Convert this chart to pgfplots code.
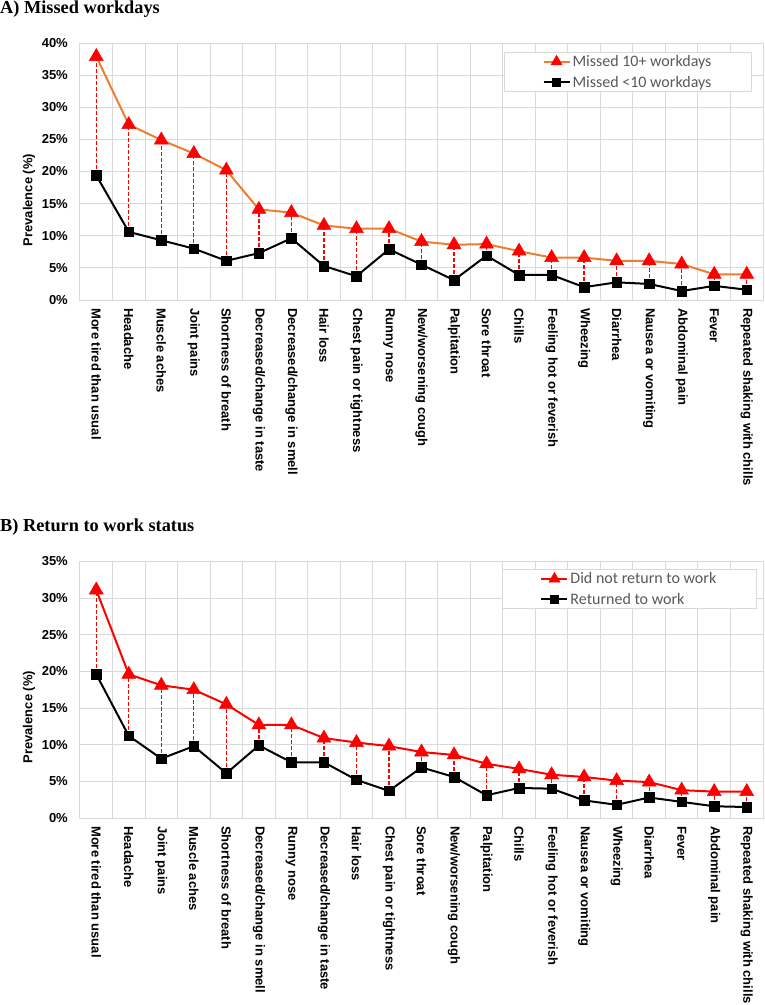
\documentclass[border=0pt]{standalone}
\usepackage{fontspec}
\setmainfont{Liberation Sans}
\newfontfamily\titlefont{Liberation Serif}
\newfontfamily\legfont{Carlito}
\usepackage{pgfplots}
\usepackage{pgfplotstable}
\pgfplotsset{compat=1.18}
\definecolor{xlorange}{HTML}{ED7D31}
\definecolor{gridgray}{HTML}{D9D9D9}
\definecolor{legtext}{HTML}{595959}

\pgfplotstableread{
x hi lo
0 37.9 19.4
1 27.3 10.6
2 24.9 9.3
3 22.8 8.0
4 20.2 6.1
5 14.1 7.3
6 13.6 9.6
7 11.6 5.3
8 11.1 3.7
9 11.1 7.9
10 9.1 5.5
11 8.6 3.1
12 8.7 6.9
13 7.6 3.9
14 6.6 3.9
15 6.6 2.0
16 6.1 2.75
17 6.1 2.5
18 5.6 1.4
19 4.0 2.2
20 4.0 1.6
}\dataA

\pgfplotstableread{
x hi lo
0 31.1 19.6
1 19.6 11.2
2 18.1 8.1
3 17.5 9.8
4 15.5 6.1
5 12.7 9.9
6 12.7 7.6
7 10.9 7.6
8 10.3 5.2
9 9.8 3.7
10 9.0 6.9
11 8.6 5.6
12 7.4 3.1
13 6.7 4.1
14 5.9 4.0
15 5.6 2.4
16 5.1 1.8
17 4.9 2.8
18 3.8 2.2
19 3.6 1.6
20 3.6 1.5
}\dataB

\pgfplotsset{
  panel/.style={
    scale only axis, width=683pt,
    xmin=-0.5, xmax=20.5, ymin=0,
    axis line style={gridgray, line width=1pt},
    xtick={0,...,20},
    minor xtick={-0.5,0.5,...,20.5},
    xminorgrids=true, ymajorgrids=true, xmajorgrids=false,
    major grid style={gridgray, line width=1pt},
    minor grid style={gridgray, line width=1pt},
    tick style={draw=none}, minor tick style={draw=none},
    tick align=outside, major tick length=8pt,
    /pgf/number format/assume math mode=true,
    xticklabel style={rotate=-90, anchor=west, inner sep=0pt,
      font=\fontsize{13}{15}\selectfont\bfseries},
    yticklabel style={inner sep=4pt, font=\fontsize{13}{15}\selectfont\bfseries},
    yticklabel={\pgfmathprintnumber{\tick}\%},
    ylabel={Prevalence (\%)},
    ylabel style={font=\fontsize{13}{15}\selectfont\bfseries, anchor=center},
    legend cell align=left,
    legend image code/.code={\draw[mark repeat=2,mark phase=2,##1] plot coordinates {(0pt,0pt) (13pt,0pt) (26pt,0pt)};},
    legend image post style={every mark/.append style={scale=0.8}},
    legend style={draw=gridgray, line width=0.8pt, anchor=north west,
      font=\legfont\fontsize{16}{18}\selectfont, text=legtext,
      inner xsep=38pt, inner ysep=1pt, row sep=4pt},
  },
  drop/.style={forget plot, only marks, mark=none,
    error bars/.cd, y dir=plus, y explicit, error mark=none,
    error bar style={red, dash pattern=on 4pt off 2pt, line width=1.3pt}},
}

\begin{document}
\begin{tikzpicture}
\useasboundingbox (0pt,0pt) rectangle (764pt,-1005pt);

\node[anchor=base west, inner sep=0pt, font=\titlefont\bfseries\fontsize{18.3}{20}\selectfont] at (0pt,-13pt) {A) Missed workdays};
\node[anchor=base west, inner sep=0pt, font=\titlefont\bfseries\fontsize{18.3}{20}\selectfont] at (0pt,-531pt) {B) Return to work status};

\begin{axis}[panel, at={(80pt,-300pt)}, anchor=south west, height=257pt,
  ymax=40, ytick={0,5,...,40},
  ylabel style={at={(axis description cs:-0.0747,0.389)}},
  legend style={at={(axis description cs:0.621,0.965)}},
  xticklabels={More tired than usual, Headache, Muscle aches, Joint pains, Shortness of breath, Decreased/change in taste, Decreased/change in smell, Hair loss, Chest pain or tightness, Runny nose, New/worsening cough, Palpitation, Sore throat, Chills, Feeling hot or feverish, Wheezing, Diarrhea, Nausea or vomiting, Abdominal pain, Fever, Repeated shaking with chills}]
\addplot[drop] table[x=x, y=lo, y error expr=\thisrow{hi}-\thisrow{lo}] {\dataA};
\addplot[xlorange, line width=2pt, mark=triangle*, mark size=8pt,
  mark options={fill=red, draw=red, line width=0.5pt, solid}] table[x=x, y=hi] {\dataA};
\addlegendentry{Missed 10+ workdays}
\addplot[black, line width=2pt, mark=square*, mark size=4.8pt,
  mark options={fill=black, line width=0.5pt, solid}] table[x=x, y=lo] {\dataA};
\addlegendentry{Missed <10 workdays}
\end{axis}

\begin{axis}[panel, at={(80pt,-818pt)}, anchor=south west, height=256.6pt,
  ymax=35, ytick={0,5,...,35},
  ylabel style={at={(axis description cs:-0.0747,0.393)}},
  legend style={at={(axis description cs:0.618,0.97)}},
  xticklabels={More tired than usual, Headache, Joint pains, Muscle aches, Shortness of breath, Decreased/change in smell, Runny nose, Decreased/change in taste, Hair loss, Chest pain or tightness, Sore throat, New/worsening cough, Palpitation, Chills, Feeling hot or feverish, Nausea or vomiting, Wheezing, Diarrhea, Fever, Abdominal pain, Repeated shaking with chills}]
\addplot[drop] table[x=x, y=lo, y error expr=\thisrow{hi}-\thisrow{lo}] {\dataB};
\addplot[red, line width=2pt, mark=triangle*, mark size=8pt,
  mark options={fill=red, draw=red, line width=0.5pt, solid}] table[x=x, y=hi] {\dataB};
\addlegendentry{Did not return to work}
\addplot[black, line width=2pt, mark=square*, mark size=4.8pt,
  mark options={fill=black, line width=0.5pt, solid}] table[x=x, y=lo] {\dataB};
\addlegendentry{Returned to work}
\end{axis}
\end{tikzpicture}
\end{document}
